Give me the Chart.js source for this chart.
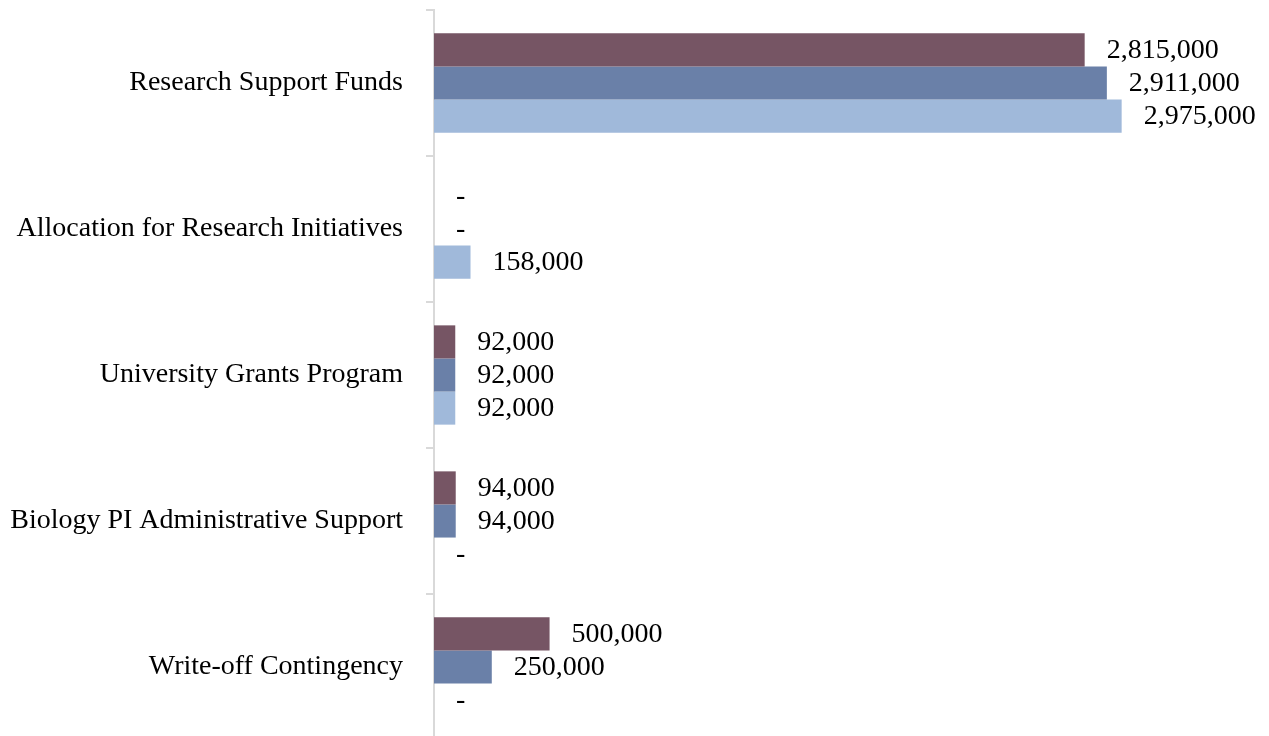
<!DOCTYPE html>
<html>
<head>
<meta charset="utf-8">
<script src="https://cdn.jsdelivr.net/npm/chart.js@4"></script>
<style>
  html, body { margin: 0; padding: 0; background: #fff; overflow: hidden; }
  #wrap { width: 1269px; height: 740px; position: relative; }
</style>
</head>
<body>
<div id="wrap"><canvas id="fundsChart"></canvas></div>
<script>
const categories = [
    "Research Support Funds",
    "Allocation for Research Initiatives",
    "University Grants Program",
    "Biology PI Administrative Support",
    "Write-off Contingency"
];
const seriesA = [2815000, 0, 92000, 94000, 500000];
const seriesB = [2911000, 0, 92000, 94000, 250000];
const seriesC = [2975000, 158000, 92000, 0, 0];
const seriesNames = ["Series A", "Series B", "Series C"];
const seriesColors = ["#765564", "#6a80a8", "#a0b9da"];

const FONT = "'Liberation Serif', 'Times New Roman', serif";

function formatValue(v) {
    if (v === 0) return "-";
    return v.toLocaleString("en-US");
}

// value labels next to each bar end
const barLabels = {
    id: "barLabels",
    afterDatasetsDraw(chart) {
        const ctx = chart.ctx;
        ctx.save();
        ctx.font = "28px " + FONT;
        ctx.fillStyle = "#000";
        ctx.textAlign = "left";
        ctx.textBaseline = "middle";
        chart.data.datasets.forEach((ds, i) => {
            chart.getDatasetMeta(i).data.forEach((bar, j) => {
                ctx.fillText(formatValue(ds.data[j]), bar.x + 22, bar.y + 1);
            });
        });
        ctx.restore();
    }
};

const datasets = [seriesA, seriesB, seriesC].map((d, i) => ({
    label: seriesNames[i],
    data: d,
    backgroundColor: seriesColors[i],
    borderWidth: 0,
    categoryPercentage: 0.68,
    barPercentage: 1.0
}));

new Chart(document.getElementById("fundsChart"), {
    type: "bar",
    data: { labels: categories, datasets: datasets },
    plugins: [barLabels],
    options: {
        indexAxis: "y",
        responsive: true,
        maintainAspectRatio: false,
        animation: false,
        layout: { padding: { top: 10, right: 26, bottom: 0, left: 0 } },
        plugins: {
            legend: { display: false },
            tooltip: { enabled: false }
        },
        scales: {
            x: {
                display: false,
                min: 0,
                max: 3500000
            },
            y: {
                afterFit(scale) {
                    scale.width = 434;
                    scale.paddingTop = 0;
                    scale.paddingBottom = 0;
                },
                grid: {
                    drawOnChartArea: false,
                    offset: true,
                    tickLength: 8,
                    color: "#d9d9d9",
                    lineWidth: 2
                },
                border: { color: "#d9d9d9", width: 2 },
                ticks: {
                    color: "#000",
                    padding: 23,
                    font: { family: FONT, size: 28 }
                }
            }
        }
    }
});
</script>
</body>
</html>
